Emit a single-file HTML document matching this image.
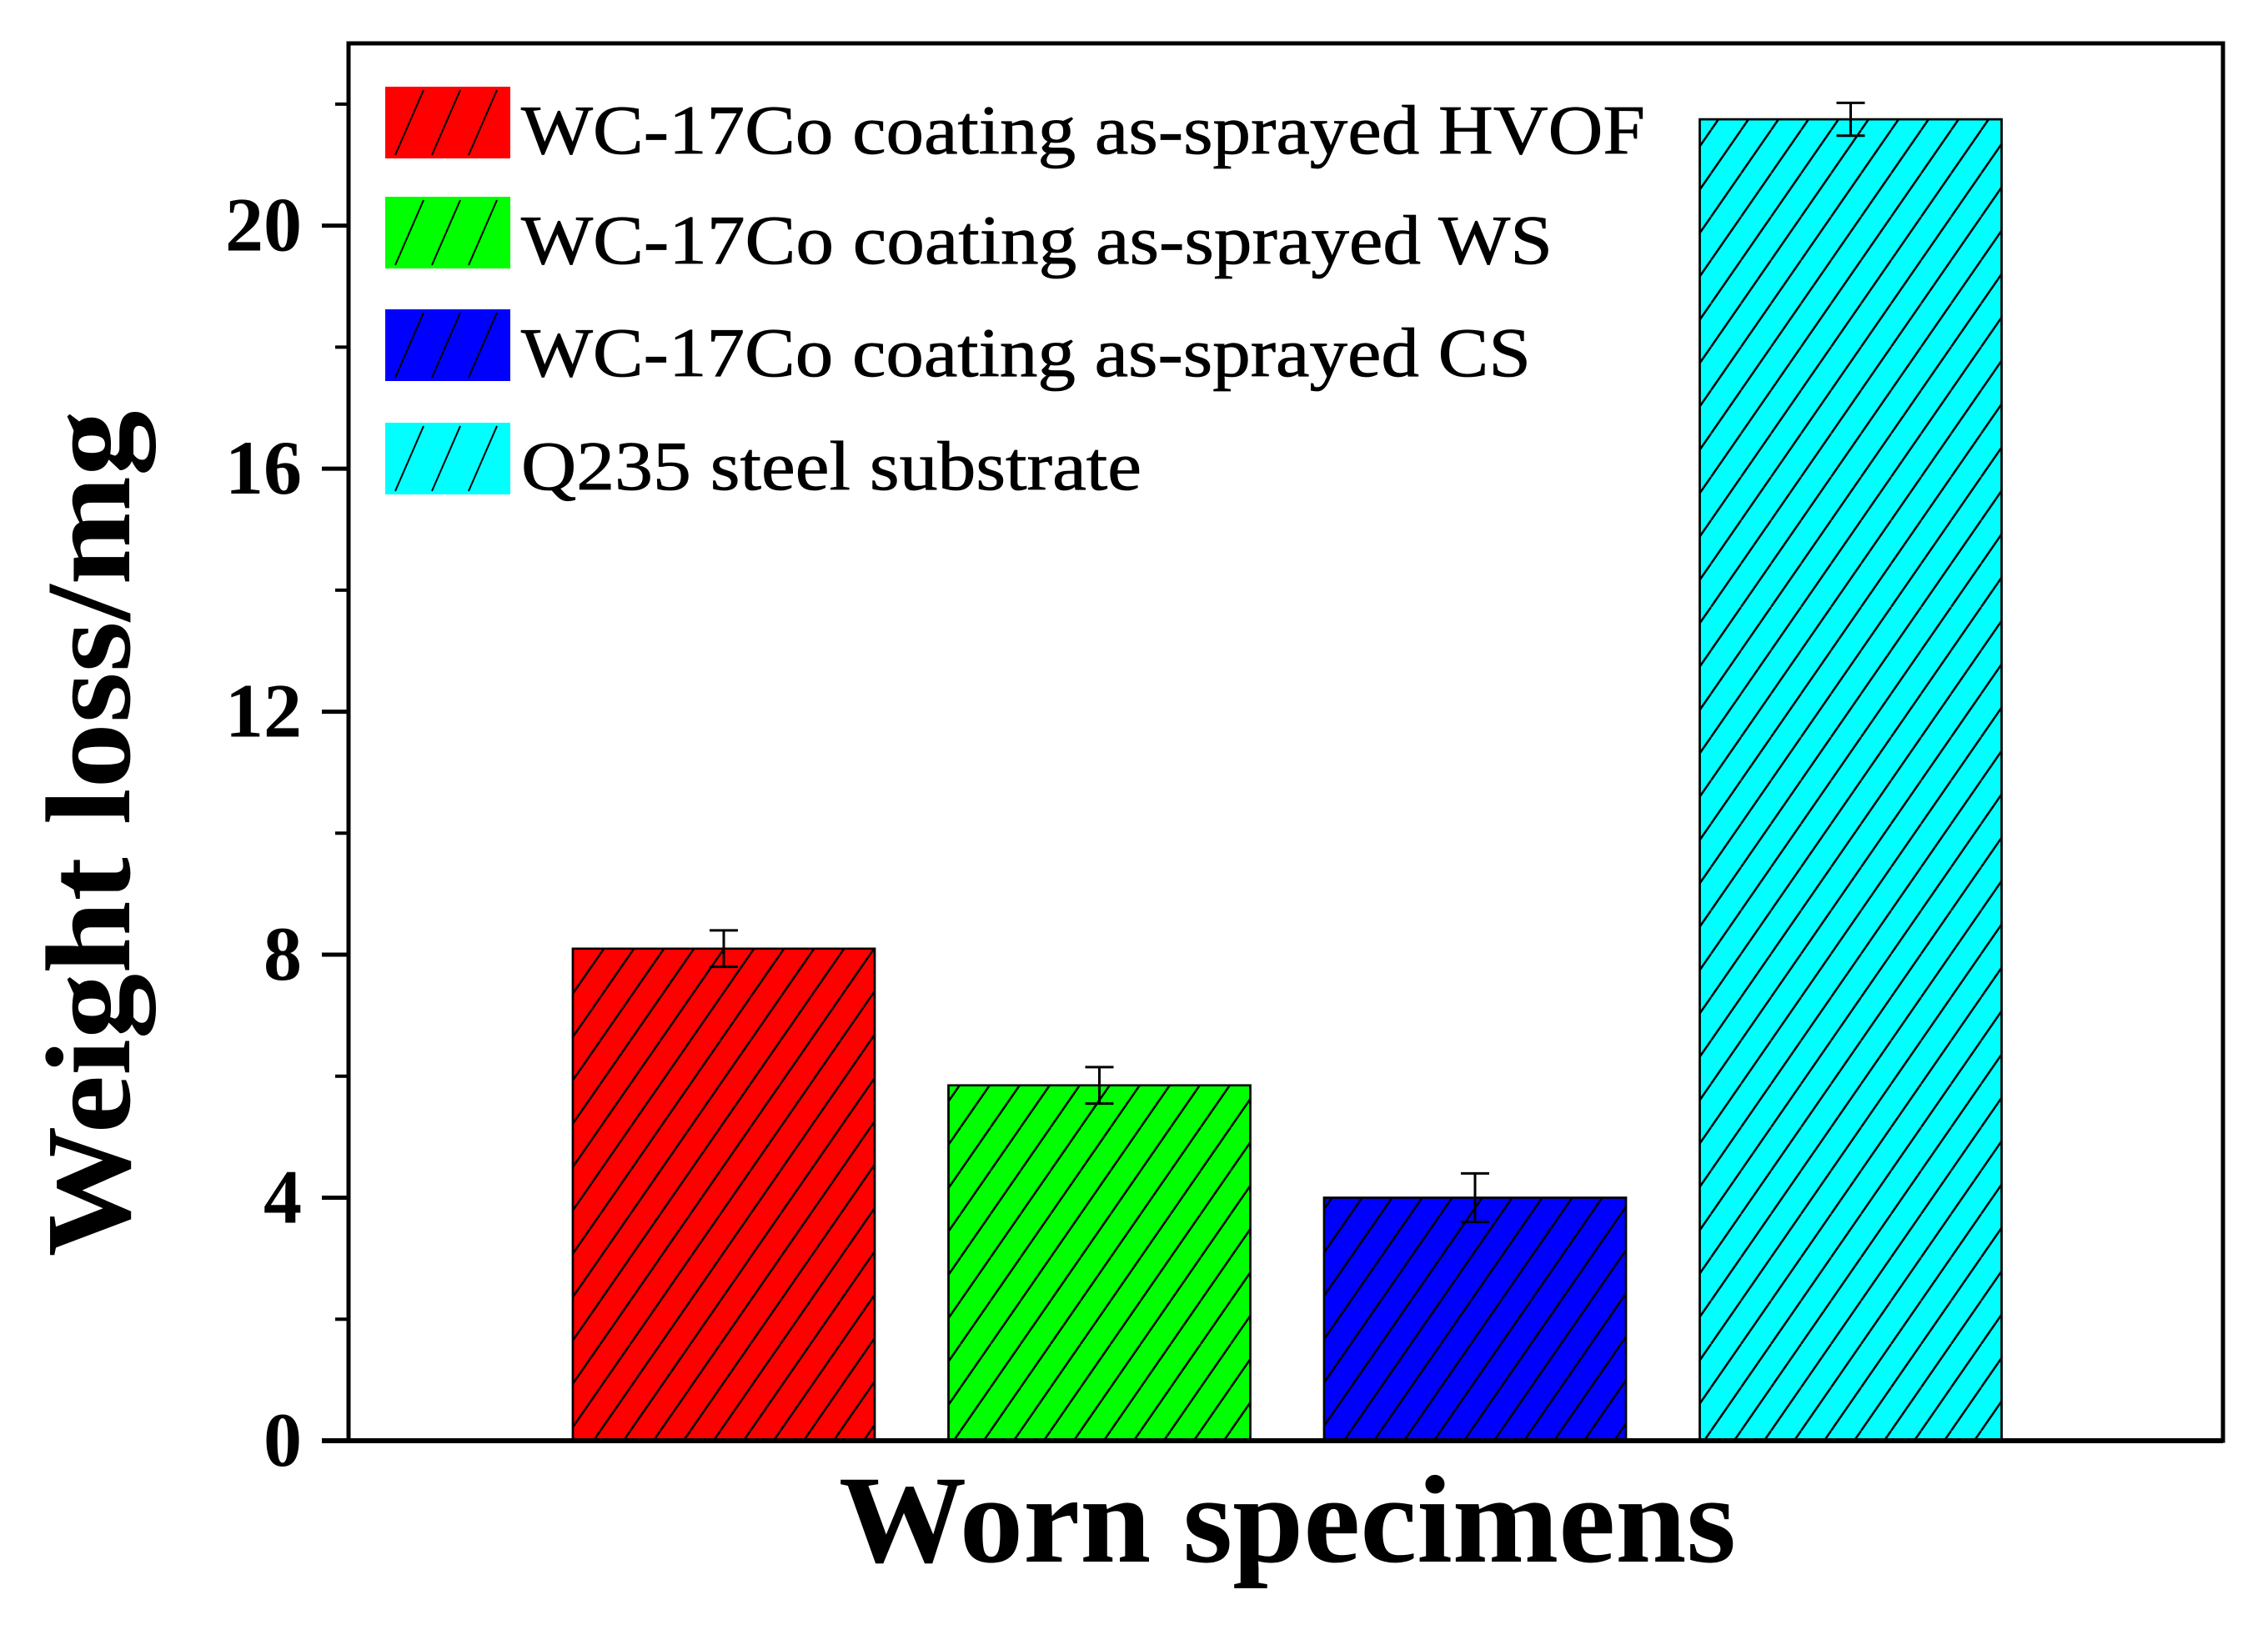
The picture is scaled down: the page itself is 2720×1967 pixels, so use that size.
<!DOCTYPE html>
<html><head><meta charset="utf-8"><style>
html,body{margin:0;padding:0;background:#fff;}
svg{display:block;}
</style></head><body>
<svg id="chart" width="2720" height="1967" viewBox="0 0 2720 1967" xmlns="http://www.w3.org/2000/svg">
<defs>
<pattern id="hatch" patternUnits="userSpaceOnUse" width="36" height="52">
<line x1="0" y1="52" x2="36" y2="0" stroke="#000" stroke-width="2.5"/>
<line x1="-36" y1="52" x2="0" y2="0" stroke="#000" stroke-width="2.5"/>
<line x1="36" y1="52" x2="72" y2="0" stroke="#000" stroke-width="2.5"/>
</pattern>
</defs>
<g id="plot"></g>
</svg>
<script>
const categories = ["WC-17Co coating as-sprayed HVOF","WC-17Co coating as-sprayed WS","WC-17Co coating as-sprayed CS","Q235 steel substrate"];
const values = [8.1, 5.85, 4.0, 21.75];
const errors = [0.3, 0.3, 0.4, 0.27];
const colors = ["#ff0000","#00ff00","#0000ff","#00ffff"];
const yTicks = [0, 4, 8, 12, 16, 20];
const yMinorTicks = [2, 6, 10, 14, 18, 22];

const NS = "http://www.w3.org/2000/svg";
const plot = document.getElementById("plot");
const L = 418, R = 2666, T = 52, B = 1728;
const yMax = 23;
const y = v => B - (v / yMax) * (B - T);
const barLeft0 = 687, barStep = 450.5, barW = 362;
const x = i => barLeft0 + i * barStep;

function mk(tag, attrs, parent) {
  const e = document.createElementNS(NS, tag);
  for (const k in attrs) e.setAttribute(k, attrs[k]);
  (parent || plot).appendChild(e);
  return e;
}

categories.forEach((c, i) => {
  const g = mk("g", {});
  
  
  mk("rect", {x: x(i), y: y(values[i]), width: barW, height: B - y(values[i]), fill: colors[i], stroke: "#000", "stroke-width": 2.5}, g);
  mk("rect", {x: x(i), y: y(values[i]), width: barW, height: B - y(values[i]), fill: "url(#hatch)", stroke: "#000", "stroke-width": 2.5}, g);
  const cx = x(i) + barW / 2;
  const eb = mk("g", {stroke: "#000", "stroke-width": 3});
  
  
  mk("line", {x1: cx, x2: cx, y1: y(values[i] + errors[i]), y2: y(values[i] - errors[i])}, eb);
  mk("line", {x1: cx - 17, x2: cx + 17, y1: y(values[i] + errors[i]), y2: y(values[i] + errors[i])}, eb);
  mk("line", {x1: cx - 17, x2: cx + 17, y1: y(values[i] - errors[i]), y2: y(values[i] - errors[i])}, eb);
});

const frame = mk("rect", {x: L, y: T, width: R - L, height: B - T, fill: "none", stroke: "#000", "stroke-width": 5});



const yAxis = mk("g", {});


yTicks.forEach(t => {
  mk("line", {x1: L - 32, x2: L, y1: y(t), y2: y(t), stroke: "#000", "stroke-width": 5}, yAxis);
  const lbl = mk("text", {x: 362, y: y(t) + 30, "text-anchor": "end", "font-family": "Liberation Serif, serif", "font-weight": "bold", "font-size": 92}, yAxis);
  
  
  lbl.textContent = t;
});
yMinorTicks.forEach(t => {
  mk("line", {x1: L - 16, x2: L, y1: y(t), y2: y(t), stroke: "#000", "stroke-width": 4}, yAxis);
});
mk("line", {x1: L - 32, x2: R, y1: B, y2: B, stroke: "#000", "stroke-width": 6}, yAxis);

const yt = mk("text", {x: 0, y: 0, transform: "translate(155,1000) rotate(-90)", "text-anchor": "middle", "font-family": "Liberation Serif, serif", "font-weight": "bold", "font-size": 145, textLength: 1015, lengthAdjust: "spacingAndGlyphs"});


yt.textContent = "Weight loss/mg";

const xt = mk("text", {x: 1544, y: 1873, "text-anchor": "middle", "font-family": "Liberation Serif, serif", "font-weight": "bold", "font-size": 150, textLength: 1076, lengthAdjust: "spacingAndGlyphs"});


xt.textContent = "Worn specimens";

const legTops = [104, 236, 371, 507];
const legWidths = [1348, 1237, 1211, 744];
const legend = mk("g", {});


categories.forEach((c, i) => {
  const g = mk("g", {}, legend);
  
  
  const top = legTops[i];
  mk("rect", {x: 462, y: top, width: 150, height: 86, fill: colors[i]}, g);
  for (let k = 0; k < 3; k++) {
    const bx = 474 + k * 44;
    mk("line", {x1: bx, y1: top + 82, x2: bx + 34, y2: top + 4, stroke: "#000", "stroke-width": 2}, g);
  }
  const t = mk("text", {x: 625, y: top + 80, "font-family": "Liberation Serif, serif", "font-size": 84, "stroke": "#000", "stroke-width": 0.8, textLength: legWidths[i], lengthAdjust: "spacingAndGlyphs"}, g);
  t.textContent = c;
});
</script>
</body></html>
